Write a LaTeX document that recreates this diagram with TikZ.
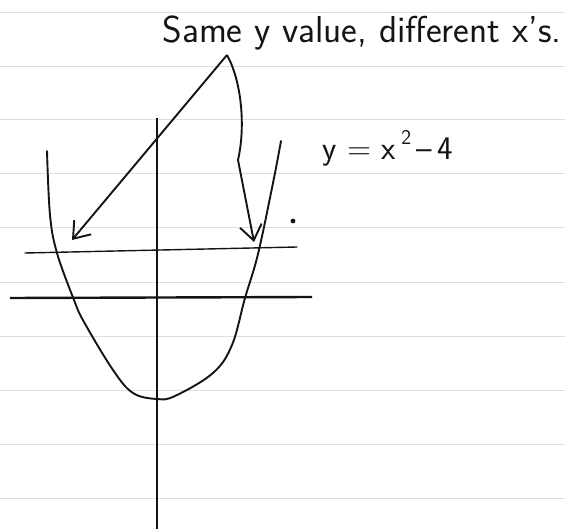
\documentclass[tikz,border=0pt]{standalone}
\usepackage{tikz}
\usetikzlibrary{arrows.meta}
\definecolor{PaperRule}{gray}{0.87}
\definecolor{PencilInk}{gray}{0.08}
\tikzset{
  paperline/.style={
    draw=PaperRule,
    line width=1pt
  },
  axisline/.style={
    draw=PencilInk,
    line width=2.4pt
  },
  inkline/.style={
    draw=PencilInk,
    line width=1.9pt,
    line cap=round,
    line join=round
  },
  pointer/.style={
    -{Straight Barb[length=15pt, width=22pt]},
    draw=PencilInk,
    line width=1.9pt
  },
  handtext/.style={
    text=PencilInk,
    font=\sffamily\fontsize{37.5}{42}\selectfont,
    inner sep=0pt
  }
}

\begin{document}
\begin{tikzpicture}[x=1pt, y=-1pt]
\useasboundingbox (0,0) rectangle (565,529);
% ruled paper
\foreach \ry in {13,67,120,174,228,283,337,390,444,498}
  \draw[paperline] (0,\ry) -- (565,\ry);

% axes and the level line
\draw[axisline] (10,298) -- (312,297);
\draw[axisline, line width=2.2pt] (157,118) -- (157,529);
\draw[inkline, line width=1.4pt] (25,253) -- (297,247);

% parabola
\draw[inkline] plot[smooth, tension=0.6] coordinates {
  (47,151) (50,215) (57,253) (74,300) (84,322) (113,370) (133,393)
  (157,399) (175,396) (213,373) (232,345) (245,298) (258,254)
  (273,183) (281,141)};

% labels
\node[handtext, anchor=base] (note) at (362,43) {Same y value, different x's.};
\node[handtext, anchor=base, font=\sffamily\fontsize{33}{36}\selectfont] (eqn) at (388,160)
  {y = x\,\raisebox{1.1ex}{\fontsize{21}{21}\selectfont 2}\,--\,4};
\fill[PencilInk] (293,221) circle (2.4pt);

% arrows
\coordinate (src) at (227,55);
\coordinate (bend) at (238,160);
\coordinate (lefttip) at (72,240);
\coordinate (righttip) at (254,242);
\draw[pointer] (src) -- (lefttip);
\draw[pointer] (src) .. controls (241,80) and (246,125) .. (bend) -- (righttip);
\end{tikzpicture}
\end{document}
